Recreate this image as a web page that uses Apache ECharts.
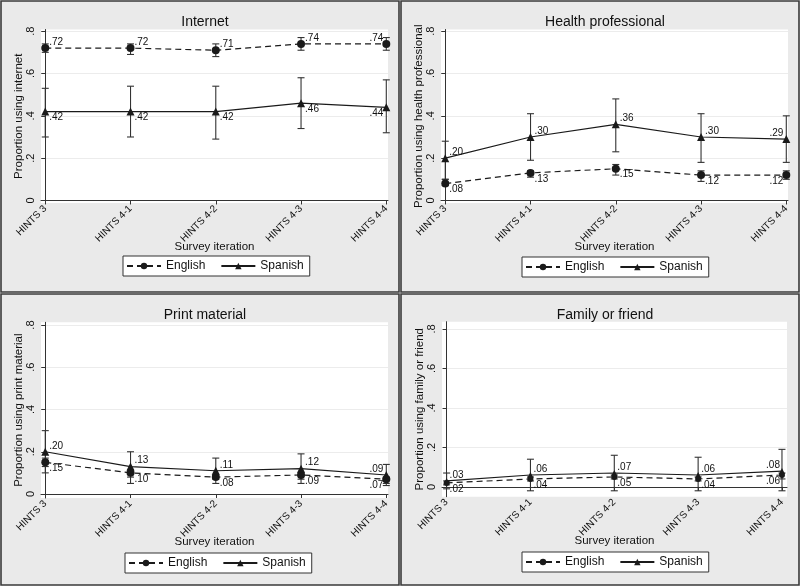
<!DOCTYPE html>
<html><head><meta charset="utf-8">
<script src="https://cdn.jsdelivr.net/npm/echarts@6/dist/echarts.min.js"></script>
<style>html,body{margin:0;padding:0;background:#fff}#c{width:800px;height:587px}</style>
</head><body><div id="c"></div>
<script>
const categories = ['HINTS 3', 'HINTS 4-1', 'HINTS 4-2', 'HINTS 4-3', 'HINTS 4-4'];
const yTicks = [0, 0.2, 0.4, 0.6, 0.8];
const seriesNames = ['English', 'Spanish'];

const panelTitles = ['Internet', 'Health professional', 'Print material', 'Family or friend'];
const yTitles = ['Proportion using internet', 'Proportion using health professional', 'Proportion using print material', 'Proportion using family or friend'];

// Internet
const internetEng = [0.72, 0.72, 0.71, 0.74, 0.74];
const internetEngLo = [0.70, 0.69, 0.68, 0.71, 0.71];
const internetEngHi = [0.74, 0.74, 0.74, 0.77, 0.77];
const internetSpa = [0.42, 0.42, 0.42, 0.46, 0.44];
const internetSpaLo = [0.30, 0.30, 0.29, 0.34, 0.32];
const internetSpaHi = [0.53, 0.54, 0.54, 0.58, 0.57];
// Health professional
const healthEng = [0.08, 0.13, 0.15, 0.12, 0.12];
const healthEngLo = [0.07, 0.11, 0.12, 0.09, 0.10];
const healthEngHi = [0.10, 0.14, 0.17, 0.14, 0.14];
const healthSpa = [0.20, 0.30, 0.36, 0.30, 0.29];
const healthSpaLo = [0.10, 0.19, 0.23, 0.18, 0.18];
const healthSpaHi = [0.28, 0.41, 0.48, 0.41, 0.40];
// Print material
const printEng = [0.15, 0.10, 0.08, 0.09, 0.07];
const printEngLo = [0.13, 0.08, 0.07, 0.07, 0.05];
const printEngHi = [0.17, 0.11, 0.09, 0.10, 0.08];
const printSpa = [0.20, 0.13, 0.11, 0.12, 0.09];
const printSpaLo = [0.10, 0.05, 0.05, 0.05, 0.04];
const printSpaHi = [0.30, 0.20, 0.17, 0.19, 0.14];
// Family or friend
const familyEng = [0.02, 0.04, 0.05, 0.04, 0.06];
const familyEngLo = [0.01, 0.03, 0.04, 0.03, 0.04];
const familyEngHi = [0.03, 0.05, 0.06, 0.05, 0.07];
const familySpa = [0.03, 0.06, 0.07, 0.06, 0.08];
const familySpaLo = [-0.01, -0.02, -0.02, -0.02, -0.02];
const familySpaHi = [0.07, 0.14, 0.16, 0.15, 0.19];

const panels = [
  {eng: internetEng, engLo: internetEngLo, engHi: internetEngHi, spa: internetSpa, spaLo: internetSpaLo, spaHi: internetSpaHi, upper: 'English',
   grid: {left: 41, top: 29.5, width: 347, height: 173.5}, ymin: -0.012, ymax: 0.808, xmin: -0.05, xmax: 4.02, titleTop: 10, legend: {left: 123, top: 256}, bg: [1, 1]},
  {eng: healthEng, engLo: healthEngLo, engHi: healthEngHi, spa: healthSpa, spaLo: healthSpaLo, spaHi: healthSpaHi, upper: 'Spanish',
   grid: {left: 441, top: 29.5, width: 347, height: 173.5}, ymin: -0.012, ymax: 0.808, xmin: -0.05, xmax: 4.02, titleTop: 10, legend: {left: 522, top: 257}, bg: [401, 1]},
  {eng: printEng, engLo: printEngLo, engHi: printEngHi, spa: printSpa, spaLo: printSpaLo, spaHi: printSpaHi, upper: 'Spanish',
   grid: {left: 41, top: 322.3, width: 347, height: 175.7}, ymin: -0.019, ymax: 0.813, xmin: -0.05, xmax: 4.02, titleTop: 303, legend: {left: 125, top: 553}, bg: [1, 294]},
  {eng: familyEng, engLo: familyEngLo, engHi: familyEngHi, spa: familySpa, spaLo: familySpaLo, spaHi: familySpaHi, upper: 'Spanish',
   grid: {left: 442, top: 321.7, width: 345, height: 175}, ymin: -0.05, ymax: 0.837, xmin: -0.055, xmax: 4.06, titleTop: 303, legend: {left: 522, top: 552}, bg: [401, 294]}
];

const FONT = 'Liberation Sans, Arial, Helvetica, sans-serif';
const INK = '#1a1a1a';
const fmt = v => v === 0 ? '0' : v.toFixed(2).replace(/^0/, '').replace(/^-0/, '-');
const fmtTick = v => v === 0 ? '0' : v.toFixed(1).replace(/^0/, '');

const grids = [], xAxes = [], yAxes = [], series = [], titles = [], legends = [], graphics = [];

panels.forEach((p, i) => {
  graphics.push({type: 'rect', z: -10, shape: {x: p.bg[0], y: p.bg[1], width: 398, height: 291},
    style: {fill: '#eaeaea', stroke: '#3a3a3a', lineWidth: 1.6}});
  grids.push(Object.assign({show: true, backgroundColor: '#ffffff', borderWidth: 0}, p.grid));
  titles.push({text: panelTitles[i], left: (i % 2 === 0 ? 200 : 600), textAlign: 'center', top: p.titleTop,
    textStyle: {fontFamily: FONT, fontSize: 14, fontWeight: 'normal', color: '#111'}});
  xAxes.push({type: 'value', gridIndex: i, min: p.xmin, max: p.xmax,
    name: 'Survey iteration', nameLocation: 'middle', nameGap: 38, nameMoveOverlap: false,
    nameTextStyle: {fontFamily: FONT, fontSize: 11.5, color: '#111'},
    axisLine: {show: true, lineStyle: {color: '#333', width: 1}},
    axisTick: {show: true, length: 4, customValues: [0, 1, 2, 3, 4], lineStyle: {color: '#333'}},
    axisLabel: {customValues: [0, 1, 2, 3, 4], rotate: 45, margin: 4, fontFamily: FONT, fontSize: 10, color: '#111',
      formatter: v => categories[Math.round(v)]},
    splitLine: {show: false}});
  yAxes.push({type: 'value', gridIndex: i, min: p.ymin, max: p.ymax,
    name: yTitles[i], nameLocation: 'middle', nameRotate: 90, nameGap: 16, nameMoveOverlap: false,
    nameTextStyle: {fontFamily: FONT, fontSize: 11.5, color: '#111'},
    axisLine: {show: true, lineStyle: {color: '#333', width: 1}},
    axisTick: {show: true, length: 4, customValues: yTicks, lineStyle: {color: '#333'}},
    axisLabel: {customValues: yTicks, rotate: 90, margin: 5, fontFamily: FONT, fontSize: 11, color: '#111', formatter: fmtTick},
    splitLine: {show: true, lineStyle: {color: '#ececec', width: 1}}});

  const errBar = (lo, hi) => ({
    type: 'custom', xAxisIndex: i, yAxisIndex: i, silent: true, z: 1,
    encode: {x: 0, y: [1, 2]},
    data: lo.map((l, j) => [j, l, hi[j]]),
    renderItem: (params, api) => {
      const a = api.coord([api.value(0), api.value(1)]);
      const b = api.coord([api.value(0), api.value(2)]);
      const w = 3.5;
      const st = {stroke: '#333333', lineWidth: 1.1};
      return {type: 'group', children: [
        {type: 'line', shape: {x1: a[0], y1: a[1], x2: b[0], y2: b[1]}, style: st},
        {type: 'line', shape: {x1: a[0] - w, y1: a[1], x2: a[0] + w, y2: a[1]}, style: st},
        {type: 'line', shape: {x1: b[0] - w, y1: b[1], x2: b[0] + w, y2: b[1]}, style: st}
      ]};
    }
  });
  series.push(errBar(p.engLo, p.engHi));
  series.push(errBar(p.spaLo, p.spaHi));

  const small = i === 3;
  const mkData = (vals, name) => vals.map((v, j) => {
    const up = p.upper === name;
    return {value: [j, v], label: {position: j === 4 ? 'left' : 'right', distance: 0, offset: [j === 4 ? 1 : 0, up ? -6 : 6]}};
  });
  const lbl = {show: true, fontFamily: FONT, fontSize: 10, color: '#111', formatter: d => fmt(d.value[1])};
  series.push({type: 'line', name: 'English', xAxisIndex: i, yAxisIndex: i, z: 3,
    data: mkData(p.eng, 'English'), symbol: 'circle', symbolSize: small ? 6 : 8,
    itemStyle: {color: INK}, lineStyle: {color: INK, width: 1.2, type: [6, 4]}, label: lbl, animation: false});
  series.push({type: 'line', name: 'Spanish', xAxisIndex: i, yAxisIndex: i, z: 3,
    data: mkData(p.spa, 'Spanish'), symbol: 'triangle', symbolSize: small ? 6 : 8,
    itemStyle: {color: INK}, lineStyle: {color: INK, width: 1.2}, label: lbl, animation: false});

  legends.push({data: seriesNames, left: p.legend.left, top: p.legend.top, orient: 'horizontal',
    backgroundColor: '#fff', borderColor: '#333', borderWidth: 1, borderRadius: 0,
    padding: [4, 6, 4, 3], itemWidth: 34, itemHeight: 8, itemGap: 15, selectedMode: false,
    textStyle: {fontFamily: FONT, fontSize: 12, color: '#111'}});
});

const chart = echarts.init(document.getElementById('c'), null, {renderer: 'canvas'});
chart.setOption({
  animation: false,
  backgroundColor: '#ffffff',
  title: titles, grid: grids, xAxis: xAxes, yAxis: yAxes, legend: legends, series: series,
  graphic: graphics
});
</script></body></html>
